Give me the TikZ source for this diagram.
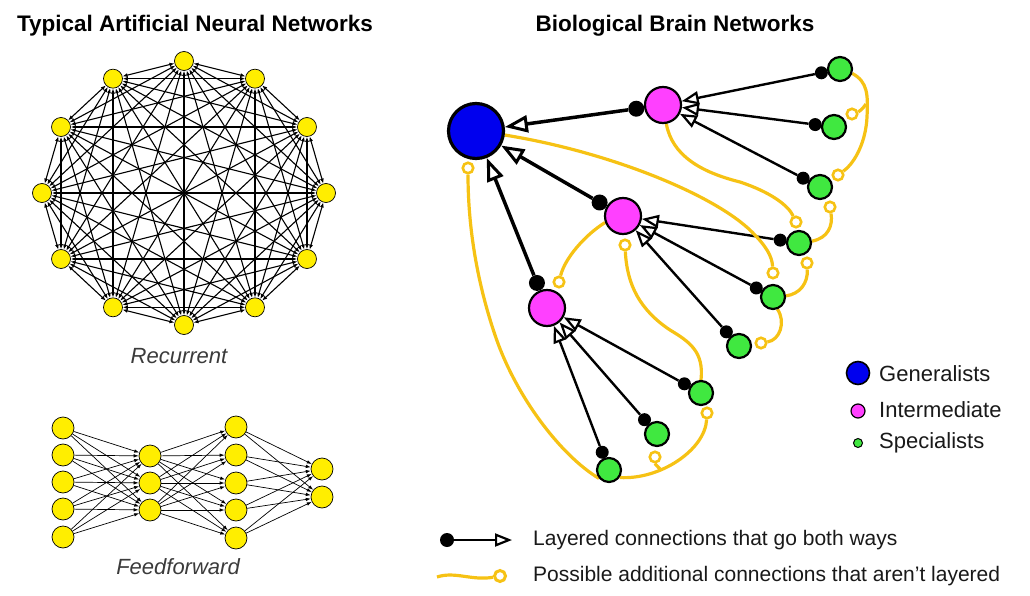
\documentclass[tikz,border=0pt]{standalone}
\usepackage{fontspec}
\setmainfont{Liberation Sans}
\usetikzlibrary{arrows.meta,calc}
\definecolor{nodeyellow}{RGB}{255,238,0}
\definecolor{genblue}{RGB}{0,0,238}
\definecolor{intmag}{RGB}{255,64,255}
\definecolor{specgreen}{RGB}{64,232,64}
\definecolor{gold}{RGB}{246,194,20}
\definecolor{txt}{RGB}{25,25,25}
\pgfdeclarelayer{links}
\pgfdeclarelayer{curves}
\pgfsetlayers{links,curves,main}
\tikzset{
  ynode/.style={circle,draw=black,line width=0.7pt,fill=nodeyellow,minimum size=19pt,inner sep=0pt},
  fnode/.style={ynode,minimum size=22pt},
  gen/.style={circle,draw=black,line width=3.2pt,fill=genblue,minimum size=55pt,inner sep=0pt},
  inter/.style={circle,draw=black,line width=2.2pt,fill=intmag,minimum size=36pt,inner sep=0pt},
  spec/.style={circle,draw=black,line width=2.2pt,fill=specgreen,minimum size=24pt,inner sep=0pt},
  bigdot/.style={circle,fill=black,minimum size=16pt,inner sep=0pt},
  smalldot/.style={circle,fill=black,minimum size=13pt,inner sep=0pt},
  ring/.style={circle,draw=gold,line width=2.6pt,fill=white,minimum size=10.5pt,inner sep=0pt},
  yel/.style={draw=gold,line width=3.2pt},
  thicklink/.style={line width=3.5pt,-{Triangle[open,length=23pt,width=17pt,line width=3pt]}},
  thinlink/.style={line width=2.4pt,-{Triangle[open,length=17pt,width=13pt,line width=2.2pt]}},
  redge/.style={line width=1.1pt,{Latex[length=5pt,width=4pt]}-{Latex[length=5pt,width=4pt]}},
  fedge/.style={line width=0.7pt,-{Latex[length=5pt,width=3.5pt]}},
  ttl/.style={font=\fontsize{22.5}{26}\selectfont\bfseries,text=black,anchor=base,inner sep=0pt},
  netcap/.style={font=\fontsize{22}{26}\selectfont\itshape,text=txt!85,anchor=base,inner sep=0pt},
  legtxt/.style={font=\fontsize{21}{25}\selectfont,text=txt,anchor=west,inner sep=0pt},
}
\begin{document}
\begin{tikzpicture}[x=1pt,y=-1pt]
\useasboundingbox (0,0) rectangle (1030,596);

% titles
\node[ttl] (t1) at (195,32) {Typical Artificial Neural Networks};
\node[ttl] (t2) at (675,32) {Biological Brain Networks};

% ---------- recurrent ----------
\foreach \k in {0,...,11}
  \node[ynode] (r\k) at ({184+142*cos(90-30*\k)},{193-132*sin(90-30*\k)}) {};
\foreach \i in {0,...,10}{
  \pgfmathtruncatemacro\s{\i+1}
  \foreach \j in {\s,...,11}{\draw[redge] (r\i) -- (r\j);}
}
\node[netcap] (rl) at (179,363) {Recurrent};

% ---------- feedforward ----------
\foreach \i/\y in {1/428,2/455,3/482,4/509,5/537} \node[fnode] (fa\i) at (63,\y) {};
\foreach \i/\y in {1/456,2/483,3/510} \node[fnode] (fb\i) at (150,\y) {};
\foreach \i/\y in {1/427,2/455,3/483,4/510,5/538} \node[fnode] (fc\i) at (236,\y) {};
\foreach \i/\y in {1/469,2/497} \node[fnode] (fd\i) at (322,\y) {};
\foreach \i in {1,...,5} \foreach \j in {1,2,3} \draw[fedge] (fa\i) -- (fb\j);
\foreach \i in {1,2,3} \foreach \j in {1,...,5} \draw[fedge] (fb\i) -- (fc\j);
\foreach \i in {1,...,5} \foreach \j in {1,2} \draw[fedge] (fc\i) -- (fd\j);
\node[netcap] (fl) at (178,574) {Feedforward};

% ---------- biological ----------
\node[gen] (B) at (476,131) {};
\node[inter] (M1) at (663,105) {};
\node[inter] (M2) at (623,216) {};
\node[inter] (M3) at (547,308) {};
\node[spec] (G1) at (840,69) {};
\node[spec] (G2) at (834,127) {};
\node[spec] (G3) at (820,187) {};
\node[spec] (G4) at (799,243) {};
\node[spec] (G5) at (773,297) {};
\node[spec] (G6) at (739,346) {};
\node[spec] (G7) at (701,393) {};
\node[spec] (G8) at (657,434) {};
\node[spec] (G9) at (609,470) {};

\foreach \m in {M1,M2,M3} \node[bigdot] (d\m) at ($(\m)!27pt!(B)$) {};
\foreach \g/\m in {G1/M1,G2/M1,G3/M1,G4/M2,G5/M2,G6/M2,G7/M3,G8/M3,G9/M3}
  \node[smalldot] (d\g) at ($(\g)!19pt!(\m)$) {};

% rings
\node[ring] (R1) at (773,273) {};
\node[ring] (R2) at (796,222) {};
\node[ring] (R3) at (838,175) {};
\node[ring] (R4) at (852,114) {};
\node[ring] (R5) at (830,207) {};
\node[ring] (R6) at (807,263) {};
\node[ring] (R7) at (761,343) {};
\node[ring] (R8) at (559,282) {};
\node[ring] (R9) at (625,245) {};
\node[ring] (R10) at (707,413) {};
\node[ring] (R11) at (655,457) {};
\node[ring] (R12) at (468,168) {};
\coordinate (j1) at (866,104);
\coordinate (j2) at (660,469);

\begin{pgfonlayer}{links}
\foreach \m in {M1,M2,M3} \draw[thicklink] (d\m) -- (B);
\foreach \g/\m in {G1/M1,G2/M1,G3/M1,G4/M2,G5/M2,G6/M2,G7/M3,G8/M3,G9/M3}
  \draw[thinlink] (d\g) -- (\m);
\end{pgfonlayer}

\begin{pgfonlayer}{curves}
\draw[yel] (B.-8) .. controls (610,152) and (715,195) .. (752,232) .. controls (766,246) and (772,256) .. (R1);
\draw[yel] (M1.-80) .. controls (672,155) and (700,172) .. (740,182) .. controls (770,192) and (788,205) .. (R2);
\draw[yel] (G1.-20) .. controls (868,82) and (868,95) .. (867,117) .. controls (866,140) and (856,162) .. (R3);
\draw[yel] (j1) .. controls (862,110) and (858,112) .. (R4);
\draw[yel] (G4.8) .. controls (828,238) and (833,226) .. (R5);
\draw[yel] (G5.5) .. controls (800,294) and (808,283) .. (R6);
\draw[yel] (G5.-70) .. controls (786,322) and (780,340) .. (R7);
\draw[yel] (M2.-160) .. controls (585,235) and (565,258) .. (R8);
\draw[yel] (G7.north) .. controls (704,352) and (690,342) .. (670,330) .. controls (640,310) and (627,285) .. (R9);
\draw[yel] (G9.-35) .. controls (660,480) and (705,450) .. (R10);
\draw[yel] (j2) .. controls (657,466) and (655,464) .. (R11);
\draw[yel] (G9.-140) .. controls (560,455) and (515,395) .. (495,335) .. controls (478,285) and (468,230) .. (R12);
\end{pgfonlayer}

% ---------- legend (right) ----------
\node[circle,draw=black,line width=1.6pt,fill=genblue,minimum size=23pt,inner sep=0pt] (lg) at (858,373) {};
\node[circle,draw=black,line width=1.2pt,fill=intmag,minimum size=14pt,inner sep=0pt] (li) at (858,411) {};
\node[circle,draw=black,line width=1pt,fill=specgreen,minimum size=9pt,inner sep=0pt] (ls) at (858,443) {};
\node[legtxt,font=\fontsize{22}{26}\selectfont] (lgt) at (879,374) {Generalists};
\node[legtxt,font=\fontsize{22}{26}\selectfont] (lit) at (879,410) {Intermediate};
\node[legtxt,font=\fontsize{22}{26}\selectfont] (lst) at (879,443) {Specialists};

% ---------- legend (bottom) ----------
\node[circle,fill=black,minimum size=14pt,inner sep=0pt] (ldot) at (447,540) {};
\coordinate (ltip) at (512,540);
\draw[line width=2.5pt,-{Triangle[open,length=17pt,width=13pt,line width=2.2pt]}] (ldot) -- (ltip);
\node[ring,line width=3pt,minimum size=11pt] (lring) at (500,576) {};
\coordinate (lstart) at (437,577);
\draw[yel] (lstart) .. controls (455,571) and (472,581) .. (lring);
\node[legtxt] (lt1) at (533,540) {Layered connections that go both ways};
\node[legtxt] (lt2) at (533,576) {Possible additional connections that aren’t layered};
\end{tikzpicture}
\end{document}
